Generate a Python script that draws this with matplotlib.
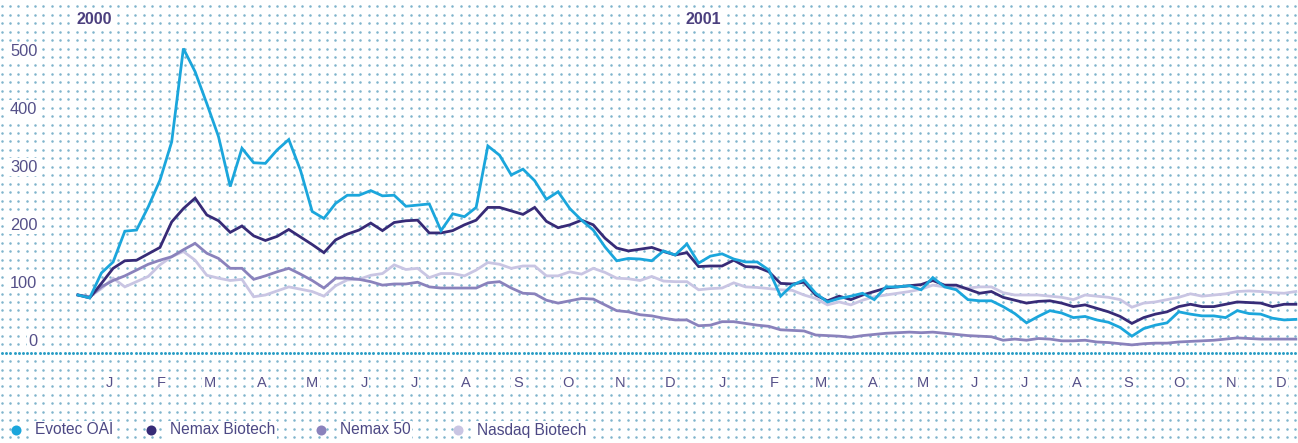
import numpy as np
import matplotlib
matplotlib.use("Agg")
import matplotlib.pyplot as plt
from matplotlib.transforms import offset_copy

# ---------------- data (weekly, indexed to 100 at end of 1999) ----------------
START_DATE = "1999-12-27"
series_names = ["Evotec OAI", "Nemax Biotech", "Nemax 50", "Nasdaq Biotech"]
series_colors = ["#1ba6dc", "#372b77", "#8a82bc", "#c9c5e3"]

evotec = [100, 95, 138, 157, 210, 212, 252, 298, 364, 525, 485, 430, 373, 287, 353,
          328, 327, 350, 368, 315, 244, 232, 258, 272, 272, 280, 271, 272, 253, 255,
          257, 211, 240, 235, 251, 357, 341, 307, 317, 297, 265, 278, 249, 229, 212,
          183, 159, 163, 162, 159, 176, 169, 188, 155, 167, 171, 162, 157, 157, 143,
          98, 117, 126, 103, 88, 94, 98, 103, 92, 114, 114, 116, 109, 130, 114,
          109, 92, 90, 90, 80, 68, 52, 63, 73, 69, 61, 63, 57, 53, 44,
          29, 42, 48, 52, 71, 67, 64, 64, 61, 73, 68, 67, 60, 57, 58]

nemax_biotech = [100, 95, 120, 146, 159, 160, 171, 182, 226, 249, 267, 238, 228, 208, 219,
                 202, 194, 201, 213, 200, 187, 173, 195, 205, 212, 224, 211, 225, 228, 229,
                 207, 207, 211, 221, 229, 251, 251, 245, 239, 251, 227, 216, 221, 229, 221,
                 198, 181, 176, 179, 182, 175, 169, 173, 149, 150, 150, 160, 149, 148, 140,
                 120, 119, 122, 100, 90, 98, 92, 100, 106, 112, 114, 116, 118, 125, 117,
                 117, 110, 103, 106, 96, 91, 86, 89, 90, 86, 80, 83, 77, 71, 63,
                 51, 61, 67, 71, 80, 84, 80, 80, 84, 88, 87, 86, 80, 84, 84]

nemax_50 = [100, 97, 114, 125, 133, 143, 153, 160, 166, 178, 189, 172, 163, 146, 146,
            127, 133, 140, 146, 136, 125, 112, 129, 129, 127, 123, 117, 119, 119, 122,
            114, 112, 112, 112, 112, 121, 123, 112, 103, 102, 91, 86, 90, 94, 93,
            83, 73, 71, 66, 64, 60, 57, 57, 47, 48, 54, 54, 51, 48, 46,
            40, 39, 38, 31, 30, 29, 27, 30, 32, 34, 35, 36, 35, 36, 34,
            32, 30, 29, 28, 22, 24, 22, 25, 24, 21, 21, 22, 19, 18, 16,
            14, 16, 17, 17, 19, 20, 21, 22, 24, 26, 25, 24, 24, 24, 24]

nasdaq_biotech = [100, 97, 111, 129, 114, 123, 132, 152, 166, 175, 160, 134, 129, 125, 127,
                  97, 100, 107, 114, 110, 106, 98, 116, 126, 127, 134, 137, 152, 144, 146,
                  130, 137, 137, 133, 143, 156, 153, 146, 150, 150, 133, 133, 140, 136, 146,
                  139, 129, 128, 125, 132, 124, 123, 123, 109, 111, 112, 121, 114, 113, 111,
                  109, 108, 100, 94, 83, 88, 83, 91, 97, 100, 103, 106, 110, 117, 114,
                  112, 112, 114, 114, 104, 100, 100, 100, 98, 96, 92, 100, 98, 96, 92,
                  79, 86, 88, 92, 96, 102, 98, 100, 102, 106, 107, 106, 104, 103, 106]

month_labels = list("JFMAMJJASOND") * 2
year_labels = ["2000", "2001"]
y_ticks = [0, 100, 200, 300, 400, 500]

# ---------------- layout ----------------
W, H = 1298, 443
X0, PX_PER_DAY = 78.0, 11.71 / 7.0       # pixel x of first week, pixels per day
Y0, PX_PER_UNIT = 353.0, 0.58            # pixel y of value 0, pixels per index point

TEXT_COLOR = "#555089"
FONT = "Liberation Sans"
WHITE_BOX = dict(facecolor="white", edgecolor="none", pad=1.2)

fig = plt.figure(figsize=(W / 100, H / 100), dpi=100)
fig.patch.set_facecolor("white")

# dotted background (pixel coordinates)
bg = fig.add_axes([0, 0, 1, 1])
bg.set_xlim(0, W)
bg.set_ylim(H, 0)
bg.axis("off")
dx, dy = 8.345, 8.45
gx = np.arange(10.0 - dx, W + 1, dx)
gy = np.arange(352.7 - 41 * dy, H + 1, dy)
GX, GY = np.meshgrid(gx, gy)
mask = np.abs(GY - 352.7) > 1
bg.scatter(GX[mask], GY[mask], s=3.3, c="#7fb4cc", linewidths=0, zorder=1)
ax_dots = np.arange(2.0, W, dx / 2)
bg.scatter(ax_dots, np.full_like(ax_dots, 352.7), s=4.5, c="#2a9dc5", linewidths=0, zorder=1)

# main data axes
ax = fig.add_axes([0, 0, 1, 1])
ax.patch.set_alpha(0)
ax.set_xlim(-X0 / PX_PER_DAY, (W - X0) / PX_PER_DAY)
ax.set_ylim(-(H - Y0) / PX_PER_UNIT, Y0 / PX_PER_UNIT)
ax.axis("off")

start = np.datetime64(START_DATE)
all_series = [evotec, nemax_biotech, nemax_50, nasdaq_biotech]
days = 7 * np.arange(len(evotec))
for vals, col, z in zip(all_series[::-1], series_colors[::-1], [2, 3, 4, 5]):
    ax.plot(days, vals, color=col, lw=2.0, solid_joinstyle="miter", zorder=z)

# y tick labels (sitting above their value level)
ylab_tr = offset_copy(ax.transData, fig=fig, x=0, y=12, units="dots")
for v in y_ticks:
    ax.text(-24.3, v, str(v), transform=ylab_tr, ha="right", va="center",
            fontsize=11.8, color=TEXT_COLOR, family=FONT, bbox=WHITE_BOX)

# month labels at mid-month
months = np.arange("2000-01", "2002-01", dtype="datetime64[M]")
mid_days = ((months.astype("datetime64[D]") + 14) - start).astype(int)
y_month = -(383 - Y0) / PX_PER_UNIT
for d, lab in zip(mid_days, month_labels):
    ax.text(d, y_month, lab, ha="center", va="center", fontsize=10.5,
            color=TEXT_COLOR, family=FONT, bbox=WHITE_BOX)

# year labels at first week of each year
y_year = (Y0 - 20) / PX_PER_UNIT
for wk, lab in zip([0, 52], year_labels):
    ax.text(days[wk] - 1.0, y_year, lab, ha="left", va="center", fontsize=11.5,
            fontweight="bold", color="#4b3f7e", family=FONT, bbox=WHITE_BOX)

# legend (bottom row)
leg_marker_x = [16, 151, 321, 458]
leg_y = 430
for mx, name, col in zip(leg_marker_x, series_names, series_colors):
    bg.scatter([mx], [leg_y], s=52, c=col, linewidths=0, zorder=6)
    bg.text(mx + 19, leg_y, name, ha="left", va="center", fontsize=11.2,
            color="#4c4884", family=FONT, zorder=6, bbox=WHITE_BOX)

fig.savefig("out.png", dpi=100, facecolor="white")
